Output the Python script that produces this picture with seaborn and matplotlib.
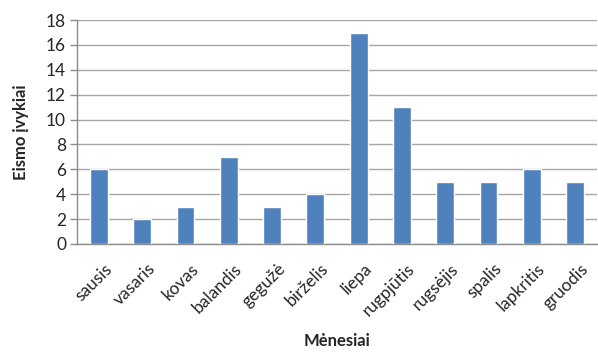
import matplotlib
matplotlib.use("Agg")
import matplotlib.pyplot as plt
import matplotlib.transforms as mtransforms
from matplotlib.ticker import FixedLocator
import seaborn as sns
import pandas as pd

months = ["sausis", "vasaris", "kovas", "balandis", "gegužė", "birželis",
          "liepa", "rugpjūtis", "rugsėjis", "spalis", "lapkritis", "gruodis"]
accidents = [6, 2, 3, 7, 3, 4, 17, 11, 5, 5, 6, 5]
y_ticks = [0, 2, 4, 6, 8, 10, 12, 14, 16, 18]

df = pd.DataFrame({"Mėnesiai": months, "Eismo įvykiai": accidents})

sns.set_style("white")
plt.rcParams["font.family"] = ["Lato", "DejaVu Sans"]

fig = plt.figure(figsize=(5.98, 3.52), dpi=100)
ax = fig.add_axes([0.129, 0.307, 0.869, 0.636])

sns.barplot(data=df, x="Mėnesiai", y="Eismo įvykiai", color="#4F81BD",
            saturation=1, width=0.41, ax=ax, zorder=3)

ax.set_ylim(0, 18)
ax.set_xlim(-0.5, len(months) - 0.5)
ax.set_yticks(y_ticks)
ax.set_yticklabels([str(v) for v in y_ticks], fontsize=12.5)
ax.yaxis.grid(True, color="#A6A6A6", linewidth=1, zorder=0)
ax.xaxis.grid(False)

for side in ["top", "right"]:
    ax.spines[side].set_visible(False)
for side in ["left", "bottom"]:
    ax.spines[side].set_color("#8C8C8C")
    ax.spines[side].set_linewidth(1)

# month labels, rotated and anchored at their right end
ax.set_xticks(range(len(months)))
ax.set_xticklabels(months, rotation=45, ha="right", rotation_mode="anchor",
                   fontsize=12.5)
ax.tick_params(axis="x", length=0, pad=12)
shift = mtransforms.ScaledTranslation(5 / 100, 0, fig.dpi_scale_trans)
for lbl in ax.get_xticklabels():
    lbl.set_transform(lbl.get_transform() + shift)

# category boundary tick marks below the x axis
ax.xaxis.set_minor_locator(FixedLocator([i - 0.5 for i in range(len(months) + 1)]))
ax.tick_params(axis="x", which="minor", length=5, color="#8C8C8C", width=1,
               direction="out")
ax.tick_params(axis="y", length=5, color="#8C8C8C", width=1, direction="out",
               left=True, pad=3)

ax.set_xlabel("Mėnesiai", fontsize=12, fontweight="bold", labelpad=10)
ax.set_ylabel("Eismo įvykiai", fontsize=12, fontweight="bold", labelpad=12)

fig.savefig("out.png", dpi=100, facecolor="white")
